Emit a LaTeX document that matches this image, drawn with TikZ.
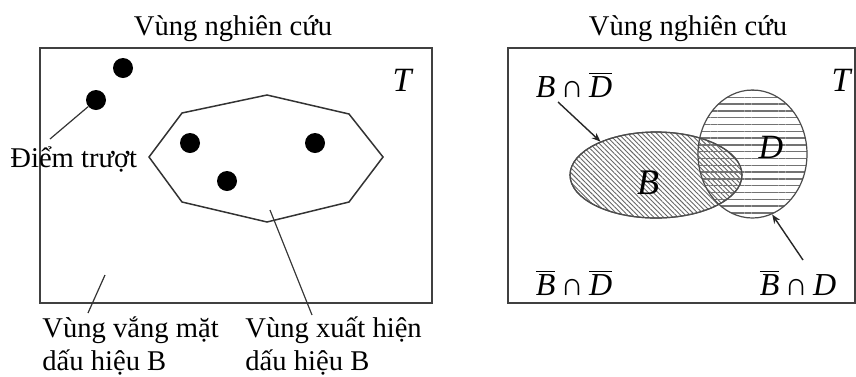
\documentclass[tikz,border=0pt]{standalone}
\usepackage{fontspec}
\setmainfont{Liberation Serif}
\usetikzlibrary{shapes.geometric,patterns.meta,arrows.meta}
\tikzset{
  frame/.style={draw=black!75,line width=1.1pt},
  dot/.style={circle,fill=black,inner sep=0pt,minimum size=10pt},
  txt/.style={inner sep=0pt,anchor=base west,font=\fontsize{14.3}{16.5}\selectfont,align=left},
  ttl/.style={inner sep=0pt,anchor=base,font=\fontsize{14.3}{16.5}\selectfont},
  setlbl/.style={inner sep=0pt,font=\fontsize{16}{18}\selectfont},
  conn/.style={draw=black!80,line width=0.6pt},
  arr/.style={draw=black!85,line width=0.7pt,-{Stealth[length=4.5pt,width=3.5pt]}},
  setB/.style={ellipse,draw=black!70,line width=0.6pt,inner sep=0pt,
    minimum width=86pt,minimum height=43pt,
    pattern={Lines[angle=-45,distance=1.7pt,line width=0.45pt]},pattern color=black!60},
  setD/.style={ellipse,draw=black!70,line width=0.6pt,inner sep=0pt,
    minimum width=54.5pt,minimum height=64pt,
    pattern={Lines[angle=0,distance=3.4pt,line width=0.7pt]},pattern color=black!55},
}
\begin{document}
\begin{tikzpicture}[x=0.5pt,y=-0.5pt]
\useasboundingbox (0,0) rectangle (856,376);
% ---------- left panel ----------
\node[ttl] (t1) at (233,35) {Vùng nghiên cứu};
\draw[frame] (40,48) rectangle (432,303);
\node[inner sep=0pt,font=\fontsize{17}{19}\selectfont\itshape] (T1) at (402,80) {T};
\draw[black!80,line width=0.75pt] (182,113) -- (267,95) -- (349,114) -- (383,157) -- (349,202) -- (267,222) -- (182,202) -- (149,157) -- cycle;
\node[dot] (d1) at (123,68) {};
\node[dot] (d2) at (96,100) {};
\node[dot] (d3) at (190,143) {};
\node[dot] (d4) at (315,143) {};
\node[dot] (d5) at (227,181) {};
\node[txt] (lp) at (10,167) {Điểm trượt};
\coordinate (lpend) at (50,139);
\draw[conn] (d2) -- (lpend);
\node[txt] (la) at (42,370) {Vùng vắng mặt\\dấu hiệu B};
\coordinate (la0) at (105,275);
\coordinate (la1) at (88,313);
\draw[conn] (la0) -- (la1);
\node[txt] (lx) at (245,370) {Vùng xuất hiện\\dấu hiệu B};
\coordinate (lx0) at (270,210);
\coordinate (lx1) at (312,315);
\draw[conn] (lx0) -- (lx1);
% ---------- right panel ----------
\node[ttl] (t2) at (688,35) {Vùng nghiên cứu};
\draw[frame] (508,48) rectangle (855,303);
\node[inner sep=0pt,font=\fontsize{17}{19}\selectfont\itshape] (T2) at (841,80) {T};
\node[setB] (Bell) at (656,175) {};
\node[setD] (Dell) at (752.5,154) {};
\draw[black!70,line width=0.6pt] (Bell.center) ellipse [x radius=86,y radius=43];
\node[inner sep=0pt,font=\fontsize{18}{20}\selectfont\itshape] (Blbl) at (648,183) {B};
\node[inner sep=0pt,font=\fontsize{17}{19}\selectfont\itshape] (Dlbl) at (771,147) {D};
\node[setlbl,anchor=base] (l1) at (574,97) {\textit{B}\,∩\,$\overline{\mbox{\textit{D}}}$};
\node[setlbl,anchor=base] (l2) at (574,295) {$\overline{\mbox{\textit{B}}}$\,∩\,$\overline{\mbox{\textit{D}}}$};
\node[setlbl,anchor=base] (l3) at (798,295) {$\overline{\mbox{\textit{B}}}$\,∩\,\textit{D}};
\coordinate (a1) at (558,102);
\coordinate (a2) at (803,260);
\draw[arr] (a1) -- (Bell.149);
\draw[arr] (a2) -- (Dell.-72);
\end{tikzpicture}
\end{document}
